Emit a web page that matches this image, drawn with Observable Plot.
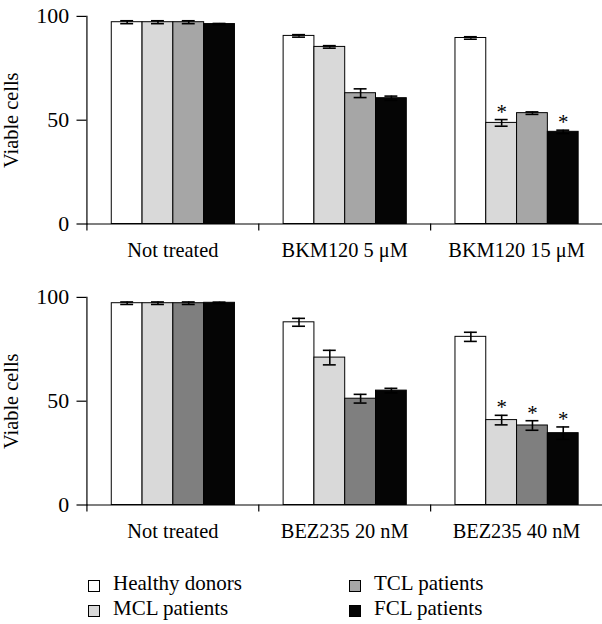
<!DOCTYPE html>
<html><head><meta charset="utf-8">
<script src="https://cdn.jsdelivr.net/npm/d3@7"></script>
<script src="https://cdn.jsdelivr.net/npm/@observablehq/plot@0.6"></script>
<style>
html,body{margin:0;padding:0;background:#fff;overflow:hidden;width:602px;height:624px}
#wrap{position:relative;width:602px;height:624px;overflow:hidden;background:#fff}
#wrap > *{position:absolute;left:0}
</style></head><body><div id="wrap"></div>
<script>
const groups = ["Healthy donors", "MCL patients", "TCL patients", "FCL patients"];

const treatmentsTop = ["Not treated", "BKM120 5 μM", "BKM120 15 μM"];
const valuesTop = [[97.2, 97.2, 97.2, 96.3], [90.6, 85.3, 63.0, 60.6], [89.6, 48.7, 53.4, 44.4]];
const errorsTop = [[0.7, 0.7, 0.7, 0.3], [0.6, 0.6, 2.1, 1.0], [0.6, 1.6, 0.6, 0.8]];
const starsTop = [[0, 0, 0, 0], [0, 0, 0, 0], [0, 1, 0, 1]];

const treatmentsBottom = ["Not treated", "BEZ235 20 nM", "BEZ235 40 nM"];
const valuesBottom = [[97.2, 97.2, 97.2, 97.4], [88.0, 71.0, 51.2, 55.1], [81.0, 40.9, 38.3, 34.6]];
const errorsBottom = [[0.6, 0.6, 0.6, 0.3], [1.9, 3.5, 2.1, 1.1], [2.2, 2.3, 2.3, 3.0]];
const starsBottom = [[0, 0, 0, 0], [0, 0, 0, 0], [0, 1, 1, 1]];

const colorsTop = ["#ffffff", "#d9d9d9", "#a6a6a6", "#050505"];
const colorsBottom = ["#ffffff", "#d9d9d9", "#7f7f7f", "#050505"];
const yTicks = [0, 50, 100];
const yLabel = "Viable cells";
const FONT = "'Liberation Serif', 'Times New Roman', serif";
const FS = 20.5;

function panel(treatments, values, errors, stars, colors) {
  const data = treatments.flatMap((t, i) => groups.map((g, j) => ({
    treatment: t, group: g, value: values[i][j], err: errors[i][j], star: !!stars[i][j]
  })));
  const W = 606, ML = 87, band = (W - ML) / 3;
  return Plot.plot({
    width: W, height: 280,
    marginLeft: ML, marginRight: 0, marginTop: 16, marginBottom: 55,
    style: {fontFamily: FONT, fontSize: FS + "px", color: "black", background: "white", overflow: "visible"},
    fx: {domain: treatments, padding: 0},
    x: {domain: groups, paddingInner: 0, paddingOuter: 0.745, axis: null},
    y: {domain: [0, 100]},
    color: {domain: groups, range: colors},
    marks: [
      Plot.barY(data, {fx: "treatment", x: "group", y: "value", fill: "group", stroke: "black", strokeWidth: 1}),
      Plot.ruleX(data, {fx: "treatment", x: "group", y1: d => d.value - d.err, y2: d => d.value + d.err, stroke: "black", strokeWidth: 1.6}),
      Plot.tickY(data, {fx: "treatment", x: "group", y: d => d.value + d.err, stroke: "black", strokeWidth: 1.6, insetLeft: 9, insetRight: 9}),
      Plot.tickY(data, {fx: "treatment", x: "group", y: d => d.value - d.err, stroke: "black", strokeWidth: 1.6, insetLeft: 9, insetRight: 9}),
      Plot.text(data.filter(d => d.star), {fx: "treatment", x: "group", y: d => d.value + d.err, text: () => "*", lineAnchor: "bottom", dy: -1, fontSize: 21, fill: "black"}),
      Plot.ruleY([0], {stroke: "black", strokeWidth: 1.2}),
      Plot.frame({anchor: "left", facetAnchor: "left", stroke: "black", strokeWidth: 1.2}),
      Plot.axisY({ticks: yTicks, tickSize: 10, tickPadding: 8, fontSize: 22, strokeWidth: 1.2, label: null}),
      Plot.axisY({ticks: [], tickSize: 0, fontSize: FS,
        label: yLabel, labelAnchor: "center", labelOffset: 84, labelArrow: "none"}),
      Plot.axisFx({anchor: "bottom", tickSize: 0, tickPadding: 19, label: null, fontSize: FS}),
      Plot.axisFx({anchor: "bottom", tickSize: 7, tickFormat: () => "", label: null, dx: -band / 2, strokeWidth: 1.2})
    ]
  });
}

const wrap = document.getElementById("wrap");
const top1 = panel(treatmentsTop, valuesTop, errorsTop, starsTop, colorsTop);
top1.style.top = "0px";
wrap.appendChild(top1);
const bot = panel(treatmentsBottom, valuesBottom, errorsBottom, starsBottom, colorsBottom);
bot.style.top = "281px";
wrap.appendChild(bot);

// legend
const legendPos = [[88, 20], [88, 45], [349, 20], [349, 45]];
const leg = d3.create("svg").attr("width", 602).attr("height", 64).style("top", "560px")
  .style("font-family", FONT).style("font-size", "21px");
groups.forEach((g, i) => {
  const [x, y] = legendPos[i];
  leg.append("rect").attr("x", x + 0.5).attr("y", y + 0.5).attr("width", 11).attr("height", 11)
    .attr("fill", colorsTop[i]).attr("stroke", "black").attr("stroke-width", 1);
  leg.append("text").attr("x", x + 25).attr("y", y + 10).attr("fill", "black").text(g);
});
wrap.appendChild(leg.node());
</script></body></html>
